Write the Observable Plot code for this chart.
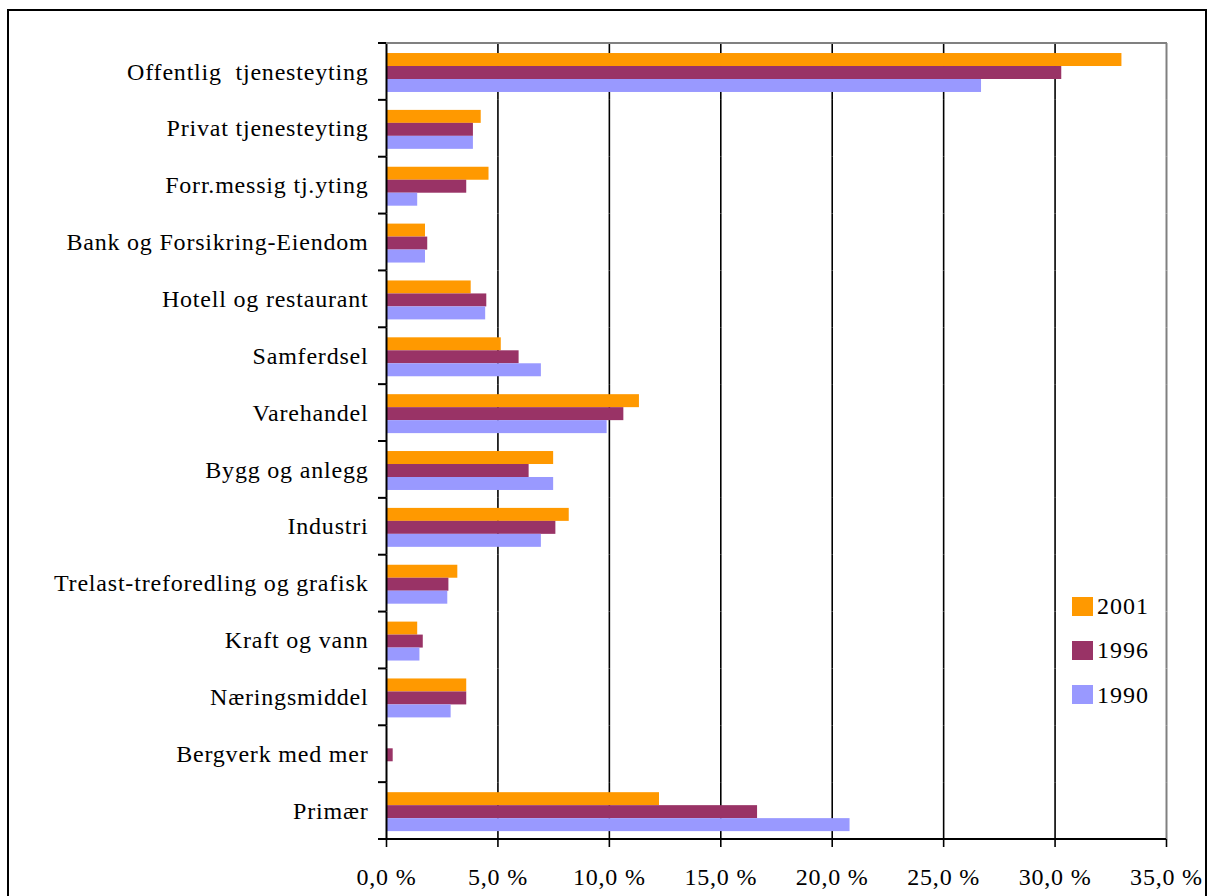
<!DOCTYPE html>
<html>
<head>
<meta charset="utf-8">
<script src="https://cdn.jsdelivr.net/npm/d3@7"></script>
<script src="https://cdn.jsdelivr.net/npm/@observablehq/plot@0.6"></script>
<style>
  body { margin: 0; background: #fff; }
  #wrap { position: relative; width: 1214px; height: 896px; overflow: hidden;
          font-family: "Liberation Serif", "Times New Roman", serif; }
  #border { position: absolute; left: 7px; top: 9px; width: 1196px; height: 930px;
            border: 2px solid #000; pointer-events: none; }
  #chart { position: absolute; left: 0; top: 0; }
  #legend { position: absolute; left: 1072px; top: 584px; }
  .row { display: flex; align-items: center; height: 44.3px; }
  .sw { width: 21px; height: 19px; margin-right: 4px; }
  .lab { font-size: 24px; letter-spacing: 1px; color: #000; line-height: 1; }
</style>
</head>
<body>
<div id="wrap">
  <div id="chart"></div>
  <div id="legend"></div>
  <div id="border"></div>
</div>
<script>
// ---- data ----
const categories = [
  "Offentlig  tjenesteyting",
  "Privat tjenesteyting",
  "Forr.messig tj.yting",
  "Bank og Forsikring-Eiendom",
  "Hotell og restaurant",
  "Samferdsel",
  "Varehandel",
  "Bygg og anlegg",
  "Industri",
  "Trelast-treforedling og grafisk",
  "Kraft og vann",
  "Næringsmiddel",
  "Bergverk med mer",
  "Primær"
];
const years = ["2001", "1996", "1990"];
const v2001 = [33.0, 4.25, 4.6, 1.75, 3.8, 5.15, 11.35, 7.5, 8.2, 3.2, 1.4, 3.6, 0, 12.25];
const v1996 = [30.3, 3.9, 3.6, 1.85, 4.5, 5.95, 10.65, 6.4, 7.6, 2.8, 1.65, 3.6, 0.3, 16.65];
const v1990 = [26.7, 3.9, 1.4, 1.75, 4.45, 6.95, 9.9, 7.5, 6.95, 2.75, 1.5, 2.9, 0, 20.8];
const colors = ["#FF9900", "#993366", "#9999FF"];
const xTicks = [0, 5, 10, 15, 20, 25, 30, 35];

// ---- table ----
const series = [v2001, v1996, v1990];
const data = categories.flatMap((c, i) =>
  years.map((y, j) => ({category: c, year: y, value: series[j][i]})));

const fmt = d => d.toFixed(1).replace(".", ",") + " %";

const chart = Plot.plot({
  width: 1214,
  height: 896,
  marginLeft: 386,
  marginRight: 48,
  marginTop: 43,
  marginBottom: 57,
  style: {
    fontFamily: "'Liberation Serif', 'Times New Roman', serif",
    fontSize: "24px",
    color: "#000",
    background: "transparent",
    letterSpacing: "0.8px",
    whiteSpace: "pre",
    overflow: "visible"
  },
  x: {domain: [xTicks[0], xTicks[xTicks.length - 1]]},
  y: {domain: years, paddingInner: 0, paddingOuter: 0.69, align: 0.56, round: false, axis: null},
  fy: {domain: categories, padding: 0, round: false},
  color: {domain: years, range: colors, type: "ordinal"},
  marks: [
    Plot.gridX(xTicks.slice(1, -1), {stroke: "#000", strokeOpacity: 1, strokeWidth: 1.6}),
    Plot.ruleX(xTicks.slice(-1), {stroke: "#808080", strokeWidth: 2}),
    Plot.barX(data, {x: "value", y: "year", fy: "category", fill: "year"}),
    Plot.ruleX(xTicks.slice(0, 1), {stroke: "#000", strokeWidth: 2}),
    Plot.axisFy({anchor: "left", tickSize: 0, tickPadding: 18, label: null, fontSize: 24}),
    Plot.axisX({ticks: xTicks, tickFormat: fmt, tickSize: 8, tickPadding: 20, label: null,
                fontSize: 24, stroke: "#000", strokeWidth: 1.6})
  ]
});
document.getElementById("chart").appendChild(chart);

// frame lines and category-boundary ticks, positioned via the plot's scales
const xs = chart.scale("x"), fys = chart.scale("fy");
const x0 = xs.apply(xTicks[0]), x1 = xs.apply(xTicks[xTicks.length - 1]);
const tops = categories.map(c => fys.apply(c));
const bottom = tops[tops.length - 1] + fys.bandwidth;
const svg = d3.select(chart);
const g = svg.append("g");
g.append("line").attr("x1", x0).attr("x2", x1 + 1).attr("y1", tops[0]).attr("y2", tops[0])
  .attr("stroke", "#808080").attr("stroke-width", 2);
[...tops, bottom].forEach(t => {
  g.append("line").attr("x1", x0 - 8).attr("x2", x0).attr("y1", t).attr("y2", t)
    .attr("stroke", "#000").attr("stroke-width", 2);
});
g.append("line").attr("x1", x0 - 8).attr("x2", x1).attr("y1", bottom).attr("y2", bottom)
  .attr("stroke", "#000").attr("stroke-width", 2);

// legend
const lg = d3.select("#legend");
years.forEach((y, i) => {
  const r = lg.append("div").attr("class", "row");
  r.append("div").attr("class", "sw").style("background", colors[i]);
  r.append("div").attr("class", "lab").text(y);
});
</script>
</body>
</html>
